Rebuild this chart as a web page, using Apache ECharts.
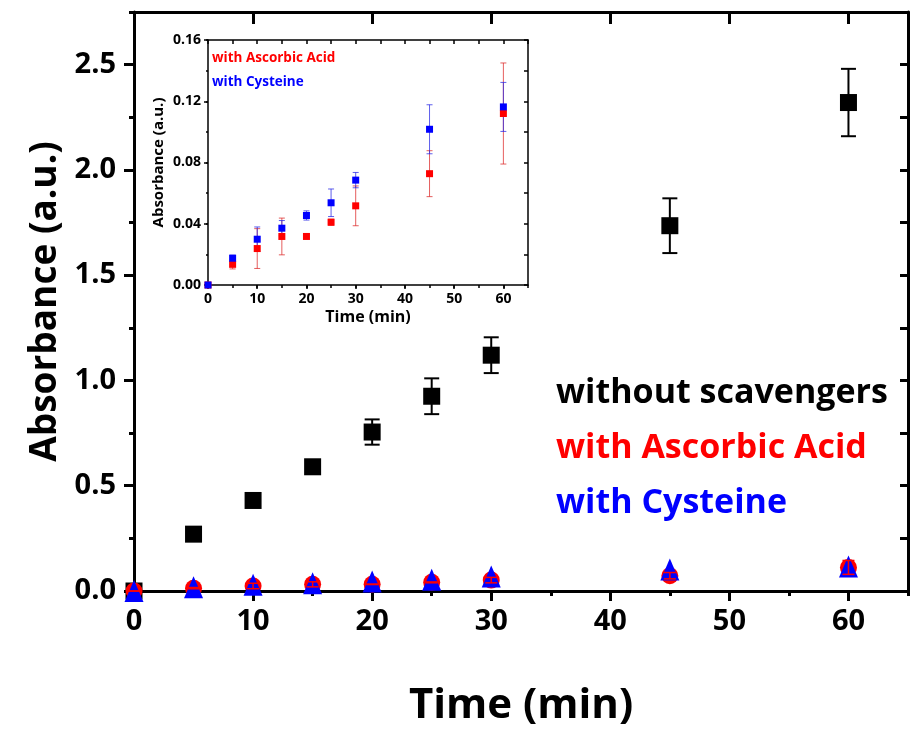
<!DOCTYPE html>
<html>
<head>
<meta charset="utf-8">
<script src="https://cdn.jsdelivr.net/npm/echarts@6/dist/echarts.min.js"></script>
<style>
  html, body { margin: 0; padding: 0; background: #fff; }
  #main { width: 910px; height: 732px; }
</style>
</head>
<body>
<div id="main"></div>
<script>
// sampling times (min)
const times = [0, 5, 10, 15, 20, 25, 30, 45, 60]
// absorbance without scavengers
const noScav = [0, 0.27, 0.43, 0.59, 0.755, 0.925, 1.12, 1.735, 2.32]
const noScavErr = [0, 0.01, 0.01, 0.015, 0.06, 0.085, 0.085, 0.13, 0.16]
// with ascorbic acid
const ascorbic = [0, 0.0135, 0.0238, 0.0317, 0.0317, 0.041, 0.0517, 0.0727, 0.112]
const ascorbicErr = [0, 0.003, 0.013, 0.012, 0.001, 0.002, 0.013, 0.015, 0.033]
// with cysteine
const cysteine = [0, 0.0175, 0.0299, 0.0371, 0.0454, 0.0537, 0.0685, 0.1017, 0.1163]
const cysteineErr = [0, 0.002, 0.008, 0.005, 0.003, 0.009, 0.005, 0.016, 0.016]

const FONT = '"Open Sans", "DejaVu Sans", sans-serif'
const RED = '#ff0000'
const BLUE = '#0000ff'

const pts = ys => times.map((t, i) => [t, ys[i]])
const errPts = (ys, es) => times.map((t, i) => [t, ys[i] - es[i], ys[i] + es[i]])

// error bar series drawn with a custom renderItem
function errorBars(data, color, width, cap, axis, z) {
  return {
    type: 'custom',
    xAxisIndex: axis,
    yAxisIndex: axis,
    z: z,
    silent: true,
    data: data,
    encode: { x: 0, y: [1, 2] },
    renderItem: function(params, api) {
      const x = api.value(0)
      const lo = api.coord([x, api.value(1)])
      const hi = api.coord([x, api.value(2)])
      const style = { stroke: color, lineWidth: width }
      const h = cap / 2
      return {
        type: 'group',
        children: [
          { type: 'line', shape: { x1: lo[0], y1: lo[1], x2: hi[0], y2: hi[1] }, style: style },
          { type: 'line', shape: { x1: lo[0] - h, y1: lo[1], x2: lo[0] + h, y2: lo[1] }, style: style },
          { type: 'line', shape: { x1: hi[0] - h, y1: hi[1], x2: hi[0] + h, y2: hi[1] }, style: style }
        ]
      }
    }
  }
}

// one frame axis (line + ticks), optionally with labels / name
function frameAxis(grid, pos, max, interval, lw, tickLen, inside, extra) {
  return Object.assign({
    type: 'value',
    gridIndex: grid,
    position: pos,
    min: 0,
    max: max,
    interval: interval,
    axisLine: { show: true, onZero: false, lineStyle: { color: '#000', width: lw } },
    axisTick: { show: true, inside: inside, length: tickLen, lineStyle: { color: '#000', width: lw } },
    axisLabel: { show: false },
    splitLine: { show: false }
  }, extra || {})
}

const xAxes = [
  // main grid: 0 = bottom with labels (used by series)
  frameAxis(0, 'bottom', 65, 10, 3, 10, false, {
    name: 'Time (min)',
    nameLocation: 'middle',
    nameGap: 94,
    nameTextStyle: { fontFamily: FONT, fontWeight: 'bold', fontSize: 42, color: '#000' },
    axisLabel: { show: true, margin: 16, showMaxLabel: false, fontFamily: FONT, fontWeight: 'bold', fontSize: 29, color: '#000' }
  }),
  // inset grid: 1 = bottom with labels (used by series)
  frameAxis(1, 'bottom', 65, 10, 1.5, 4, false, {
    name: 'Time (min)',
    nameLocation: 'middle',
    nameGap: 24,
    nameTextStyle: { fontFamily: FONT, fontWeight: 'bold', fontSize: 16, color: '#000' },
    axisLabel: { show: true, margin: 7, showMaxLabel: false, fontFamily: FONT, fontWeight: 'bold', fontSize: 14, color: '#000' }
  }),
  frameAxis(0, 'bottom', 65, 5, 3, 5, false, { axisLine: { show: false } }),
  frameAxis(0, 'top', 65, 10, 3, 12, true),
  frameAxis(0, 'top', 65, 5, 3, 5, true, { axisLine: { show: false } }),
  frameAxis(1, 'bottom', 65, 5, 1.5, 3, false, { axisLine: { show: false } }),
  frameAxis(1, 'top', 65, 5, 1.5, 4, true)
]

const yAxes = [
  frameAxis(0, 'left', 2.75, 0.5, 3, 10, false, {
    name: 'Absorbance (a.u.)',
    nameLocation: 'middle',
    nameGap: 70,
    nameTextStyle: { fontFamily: FONT, fontWeight: 'bold', fontSize: 37, color: '#000' },
    axisLabel: {
      show: true, margin: 18, showMaxLabel: false, fontFamily: FONT, fontWeight: 'bold', fontSize: 29, color: '#000',
      formatter: v => v.toFixed(1)
    }
  }),
  frameAxis(1, 'left', 0.16, 0.04, 1.5, 4, false, {
    name: 'Absorbance (a.u.)',
    nameLocation: 'middle',
    nameGap: 42,
    nameTextStyle: { fontFamily: FONT, fontWeight: 'bold', fontSize: 15, color: '#000' },
    axisLabel: {
      show: true, margin: 7, fontFamily: FONT, fontWeight: 'bold', fontSize: 14, color: '#000',
      formatter: v => v.toFixed(2)
    }
  }),
  frameAxis(0, 'left', 2.75, 0.25, 3, 5, false, { axisLine: { show: false } }),
  frameAxis(0, 'right', 2.75, 0.25, 3, 8, true),
  frameAxis(1, 'left', 0.16, 0.02, 1.5, 2, false, { axisLine: { show: false } }),
  frameAxis(1, 'right', 0.16, 0.02, 1.5, 4, true)
]

const legendText = (text, x, y, size, color) => ({
  type: 'text',
  left: x,
  top: y,
  z: 100,
  style: { text: text, fill: color, fontFamily: FONT, fontWeight: 'bold', fontSize: size }
})

const option = {
  backgroundColor: '#fff',
  animation: false,
  grid: [
    { left: 134, top: 12, right: 2, bottom: 141 },
    { left: 208, top: 40, right: 382, bottom: 447 }
  ],
  xAxis: xAxes,
  yAxis: yAxes,
  graphic: [
    legendText('without scavengers', 556, 376, 34, '#000'),
    legendText('with Ascorbic Acid', 556, 431, 34, RED),
    legendText('with Cysteine', 556, 486, 34, BLUE),
    legendText('with Ascorbic Acid', 212, 51, 13.5, RED),
    legendText('with Cysteine', 212, 75, 13.5, BLUE)
  ],
  series: [
    // main chart
    errorBars(errPts(noScav, noScavErr), '#000', 2, 15, 0, 2),
    { type: 'scatter', name: 'without scavengers', xAxisIndex: 0, yAxisIndex: 0, z: 3,
      symbol: 'rect', symbolSize: 17, itemStyle: { color: '#000', opacity: 1 }, data: pts(noScav) },
    { type: 'scatter', name: 'with Ascorbic Acid', xAxisIndex: 0, yAxisIndex: 0, z: 4,
      symbol: 'circle', symbolSize: 17, itemStyle: { color: RED, opacity: 1 }, data: pts(ascorbic) },
    { type: 'scatter', name: 'with Cysteine', xAxisIndex: 0, yAxisIndex: 0, z: 5,
      symbol: 'triangle', symbolSize: [19, 22], itemStyle: { color: BLUE, opacity: 1 }, data: pts(cysteine) },
    errorBars(errPts(ascorbic, ascorbicErr), RED, 1.5, 12, 0, 6),
    // inset
    errorBars(errPts(ascorbic, ascorbicErr), 'rgba(220,40,40,0.75)', 1, 6, 1, 7),
    errorBars(errPts(cysteine, cysteineErr), 'rgba(40,40,230,0.75)', 1, 6, 1, 7),
    { type: 'scatter', name: 'with Ascorbic Acid', xAxisIndex: 1, yAxisIndex: 1, z: 8,
      symbol: 'rect', symbolSize: 7, itemStyle: { color: RED, opacity: 1 }, data: pts(ascorbic) },
    { type: 'scatter', name: 'with Cysteine', xAxisIndex: 1, yAxisIndex: 1, z: 9,
      symbol: 'rect', symbolSize: 7, itemStyle: { color: BLUE, opacity: 1 }, data: pts(cysteine) }
  ]
}

const myChart = echarts.init(document.getElementById('main'))
myChart.setOption(option)
</script>
</body>
</html>
